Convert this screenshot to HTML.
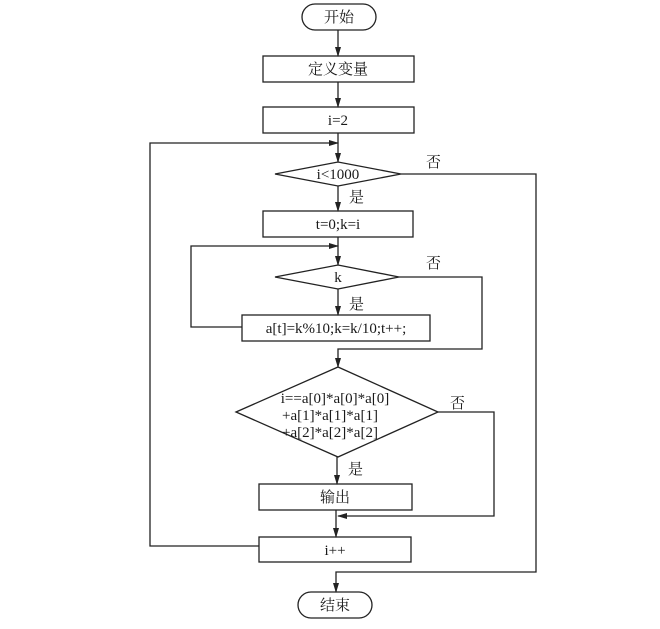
<!DOCTYPE html>
<html><head><meta charset="utf-8"><style>
body{margin:0;background:#fff}
text{font-family:"Liberation Serif","Noto Serif CJK SC",serif;font-size:15px;fill:#1a1a1a}
</style></head><body>
<svg width="660" height="624" viewBox="0 0 660 624" xmlns="http://www.w3.org/2000/svg">
<defs><marker id="a" markerWidth="10" markerHeight="8" refX="9" refY="4" orient="auto" markerUnits="userSpaceOnUse"><path d="M0,1 L10,4 L0,7 Z" fill="#222"/></marker></defs>
<g fill="none" stroke="#222" stroke-width="1.3">
<rect x="302" y="4" width="74" height="26" rx="13"/>
<rect x="263" y="56" width="151" height="26"/>
<rect x="263" y="107" width="151" height="26"/>
<polygon points="275,174 338,162 401,174 338,186"/>
<rect x="263" y="211" width="150" height="26"/>
<polygon points="275,277 338,265 399,277 338,289"/>
<rect x="242" y="315" width="188" height="26"/>
<polygon points="236,412 338,367 438,412 338,457"/>
<rect x="259" y="484" width="153" height="26"/>
<rect x="259" y="537" width="152" height="25"/>
<rect x="298" y="592" width="74" height="26" rx="13"/>
<line x1="338" y1="30" x2="338" y2="56" marker-end="url(#a)"/>
<line x1="338" y1="82" x2="338" y2="107" marker-end="url(#a)"/>
<line x1="338" y1="133" x2="338" y2="162" marker-end="url(#a)"/>
<polyline points="259,546 150,546 150,143 338,143" marker-end="url(#a)"/>
<line x1="338" y1="186" x2="338" y2="211" marker-end="url(#a)"/>
<polyline points="401,174 536,174 536,572 336,572 336,592" marker-end="url(#a)"/>
<line x1="338" y1="237" x2="338" y2="265" marker-end="url(#a)"/>
<polyline points="242,327 191,327 191,246 338,246" marker-end="url(#a)"/>
<line x1="338" y1="289" x2="338" y2="315" marker-end="url(#a)"/>
<polyline points="399,277 482,277 482,349 338,349 338,367" marker-end="url(#a)"/>
<line x1="337" y1="457" x2="337" y2="484" marker-end="url(#a)"/>
<polyline points="438,412 494,412 494,516 338,516" marker-end="url(#a)"/>
<line x1="336" y1="510" x2="336" y2="537" marker-end="url(#a)"/>
</g>
<g text-anchor="middle">
<text x="339" y="22">开始</text>
<text x="338" y="74">定义变量</text>
<text x="338" y="125">i=2</text>
<text x="338" y="179">i&lt;1000</text>
<text x="338" y="229">t=0;k=i</text>
<text x="338" y="282">k</text>
<text x="336" y="333">a[t]=k%10;k=k/10;t++;</text>
<text x="335" y="403">i==a[0]*a[0]*a[0]</text>
<text x="330" y="420">+a[1]*a[1]*a[1]</text>
<text x="330" y="437">+a[2]*a[2]*a[2]</text>
<text x="335" y="502">输出</text>
<text x="335" y="555">i++</text>
<text x="335" y="610">结束</text>
</g>
<text x="426" y="167">否</text>
<text x="349" y="202">是</text>
<text x="426" y="268">否</text>
<text x="349" y="309">是</text>
<text x="450" y="408">否</text>
<text x="348" y="474">是</text>
</svg>
</body></html>
